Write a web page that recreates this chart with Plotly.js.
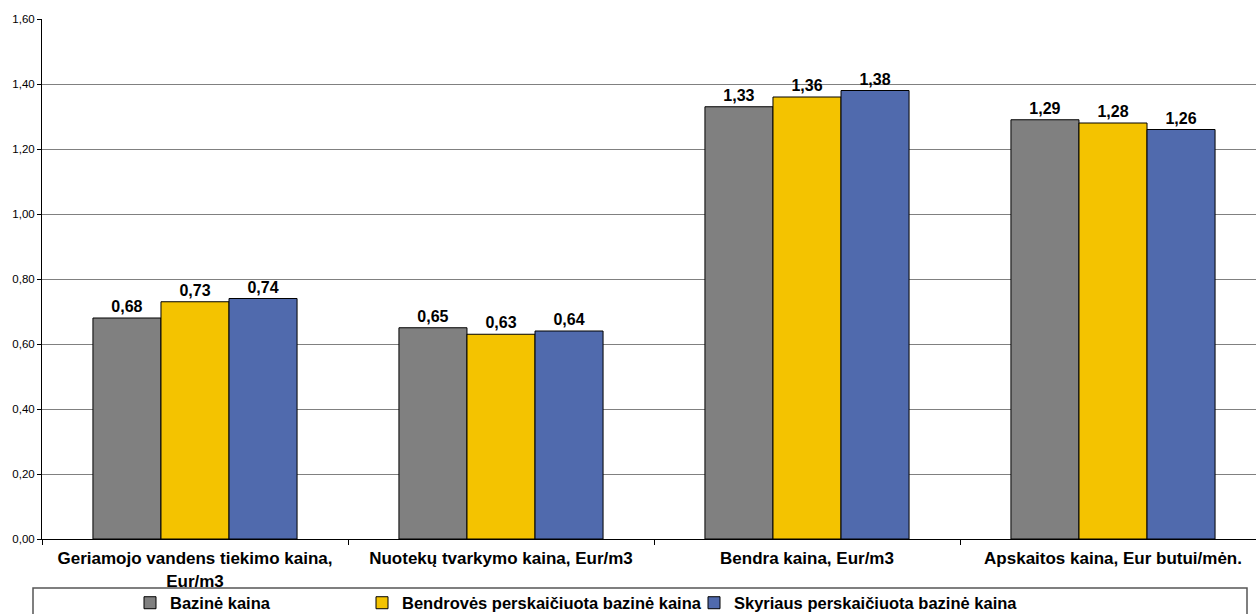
<!DOCTYPE html>
<html><head><meta charset="utf-8">
<script src="https://cdn.plot.ly/plotly-3.0.1.min.js"></script>
<style>body{margin:0;background:#fff}#c{width:1256px;height:614px}</style>
</head><body><div id="c"></div>
<script>
const categories = ["Geriamojo vandens tiekimo kaina,<br>Eur/m3", "Nuotekų tvarkymo kaina, Eur/m3", "Bendra kaina, Eur/m3", "Apskaitos kaina, Eur butui/mėn."];
const seriesNames = ["Bazinė kaina", "Bendrovės perskaičiuota bazinė kaina", "Skyriaus perskaičiuota bazinė kaina"];
const bazine = [0.68, 0.65, 1.33, 1.29];
const bendroves = [0.73, 0.63, 1.36, 1.28];
const skyriaus = [0.74, 0.64, 1.38, 1.26];
const colors = ["#808080", "#F4C300", "#506AAD"];
const yTicks = [0, 0.2, 0.4, 0.6, 0.8, 1.0, 1.2, 1.4, 1.6];

const FAM = "Liberation Sans, Arial, sans-serif";
const font = {family: FAM, color: "#000"};
const vals = [bazine, bendroves, skyriaus];
const legendIds = ["legend", "legend2", "legend3"];
const L = 42, W = 1214, T = 19, H = 520;
const CAT_PX = 306; // reference category width (chart is cropped on the right)
const traces = vals.map((v, i) => ({
  type: "bar", x: categories, y: v, name: seriesNames[i],
  marker: {color: colors[i], line: {color: "#000", width: 1}},
  texttemplate: "%{y:.2f}", textposition: "outside", cliponaxis: false,
  textfont: {family: FAM, size: 16, weight: "bold", color: "#000"},
  legend: legendIds[i], hoverinfo: "skip"
}));
const legendX = [130, 362, 694];
const legStyle = x => ({
  orientation: "h", x: (x - L) / W, xanchor: "left", y: -(603 - (T + H)) / H, yanchor: "middle",
  bgcolor: "rgba(0,0,0,0)", borderwidth: 0,
  font: {family: FAM, size: 16.5, weight: "bold", color: "#000"},
  itemwidth: 30, tracegroupgap: 0
});
const layout = {
  width: 1256, height: 614,
  margin: {l: L, r: 0, t: T, b: 614 - T - H, autoexpand: false},
  paper_bgcolor: "#fff", plot_bgcolor: "#fff",
  separators: ",.",
  font: font,
  bargap: 0.333, bargroupgap: 0,
  xaxis: {
    type: "category", range: [-0.5, -0.5 + W / CAT_PX],
    showline: true, linecolor: "#000", linewidth: 1,
    ticks: "outside", tickson: "boundaries", ticklen: 5, tickcolor: "#000",
    ticklabelstandoff: 4, automargin: false,
    tickfont: {family: FAM, size: 17, weight: "bold", color: "#000"},
    showgrid: false, fixedrange: true
  },
  yaxis: {
    range: [0, 1.6], tickvals: yTicks, tickformat: ".2f", automargin: false,
    showline: true, linecolor: "#000", linewidth: 1,
    ticks: "outside", ticklen: 4, tickcolor: "#000",
    tickfont: {family: FAM, size: 11.5, color: "#000"},
    showgrid: true, gridcolor: "#808080", gridwidth: 1, zeroline: false
  },
  legend: legStyle(legendX[0]),
  legend2: legStyle(legendX[1]),
  legend3: legStyle(legendX[2]),
  showlegend: true,
  shapes: [{type: "rect", xref: "paper", yref: "paper",
    x0: (33 - L) / W, x1: (1247 - L) / W,
    y0: -(625 - (T + H)) / H, y1: -(588 - (T + H)) / H,
    line: {color: "#555", width: 1.5}, fillcolor: "rgba(0,0,0,0)"}]
};
Plotly.newPlot("c", traces, layout, {displayModeBar: false, staticPlot: true});
</script>
</body></html>
